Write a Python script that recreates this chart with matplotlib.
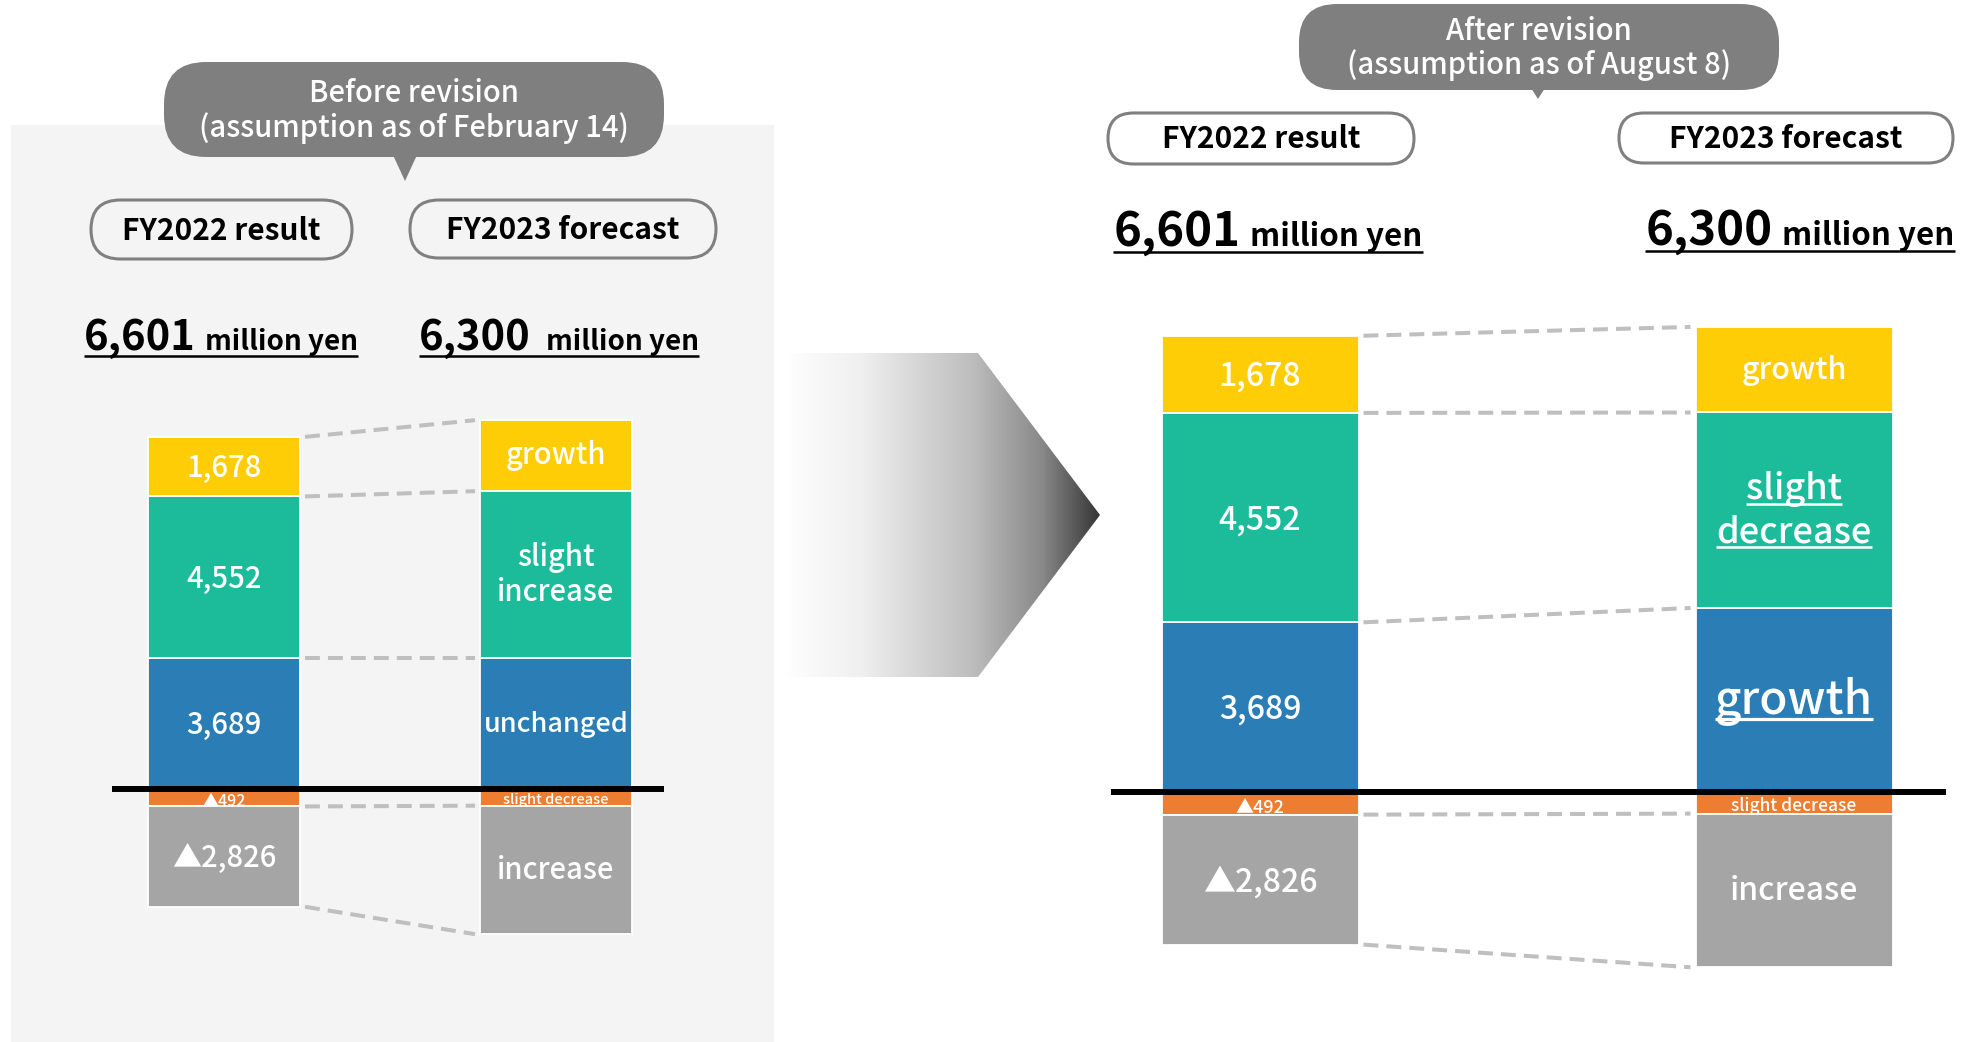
import numpy as np
import matplotlib
matplotlib.use("Agg")
import matplotlib.pyplot as plt
from matplotlib.patches import FancyBboxPatch, Polygon, Rectangle
from matplotlib.lines import Line2D
from matplotlib.colors import LinearSegmentedColormap
from matplotlib.transforms import IdentityTransform

plt.rcParams['font.family'] = ['Noto Sans CJK JP', 'DejaVu Sans']

W, H, DPI = 1972, 1042, 100

# ---- data (million yen) -------------------------------------------------
# stack order: three positive components, then two negative components
period_titles = ["FY2022 result", "FY2023 forecast"]
total_labels = ["6,601", "6,300"]
unit_label = "million yen"
bubble_before = ["Before revision", "(assumption as of February 14)"]
bubble_after = ["After revision", "(assumption as of August 8)"]

fy2022_values = [3689, 4552, 1678, -492, -2826]
fy2022_labels = ["3,689", "4,552", "1,678", "\u25b2492", "\u25b22,826"]

before_values = [3689, 4700, 2000, -470, -3619]
before_labels = ["unchanged", "slight\nincrease", "growth", "slight decrease", "increase"]

after_values = [4000, 4250, 1860, -470, -3340]
after_labels = ["growth", "slight\ndecrease", "growth", "slight decrease", "increase"]
after_underlined = [True, True, False, False, False]

seg_colors = ["#2A7DB5", "#1CBC9B", "#FFCD05", "#ED7D31", "#A5A5A5"]

# ---- figure ------------------------------------------------------------
fig = plt.figure(figsize=(W / DPI, H / DPI), dpi=DPI)
fig.patch.set_facecolor("white")
renderer = fig.canvas.get_renderer()


def px_axes(x0, y0, x1, y1, z=0):
    """Axes placed by pixel box measured from the top-left corner."""
    return fig.add_axes([x0 / W, 1 - y1 / H, (x1 - x0) / W, (y1 - y0) / H], zorder=z)


# background / decoration layer in pixel units
bg = px_axes(0, 0, W, H, z=0)
bg.set_xlim(0, W)
bg.set_ylim(H, 0)
bg.axis("off")

bg.add_patch(Rectangle((11, 125), 763, 917, fc="#F4F4F4", ec="none", zorder=0))

# gradient arrow between the two panels
arrow_pts = [(783, 353), (978, 353), (1100, 515), (978, 677), (783, 677)]
arrow = Polygon(arrow_pts, closed=True, fc="none", ec="none")
bg.add_patch(arrow)
fade = LinearSegmentedColormap.from_list(
    "fade", [(0, "#FFFFFF"), (0.25, "#EFEFEF"), (0.6, "#BDBDBD"), (0.82, "#888888"), (1, "#363636")])
im = bg.imshow(np.linspace(0, 1, 512).reshape(1, -1), extent=(783, 1100, 677, 353),
               cmap=fade, aspect="auto", interpolation="bilinear", zorder=1)
im.set_clip_path(arrow)


def bubble(x0, y0, x1, y1, tip, base_half, lines, line_ys, size):
    bg.add_patch(FancyBboxPatch((x0, y0), x1 - x0, y1 - y0,
                                boxstyle="round,pad=0,rounding_size=%d" % ((y1 - y0) * 0.45),
                                fc="#7F7F7F", ec="none", zorder=2))
    tx, ty = tip
    bg.add_patch(Polygon([(tx - base_half, y1 - 2), (tx + base_half, y1 - 2), (tx, ty)],
                         closed=True, fc="#7F7F7F", ec="none", zorder=2))
    cx = (x0 + x1) / 2
    for s, yy in zip(lines, line_ys):
        bg.text(cx, yy, s, ha="center", va="center", color="white", fontsize=size,
                weight="medium", zorder=3)


def pill(x0, y0, x1, y1, text, size):
    bg.add_patch(FancyBboxPatch((x0, y0), x1 - x0, y1 - y0,
                                boxstyle="round,pad=0,rounding_size=%f" % ((y1 - y0) / 2),
                                fc="none", ec="#808080", lw=2.2, zorder=2))
    bg.text((x0 + x1) / 2, (y0 + y1) / 2 + 1, text, ha="center", va="center",
            color="black", fontsize=size, weight="bold", zorder=3)


def headline(cx, base_y, num, num_size, unit_size, gap):
    t1 = bg.text(0, base_y, num, fontsize=num_size, weight="bold", ha="left", va="baseline", zorder=3)
    t2 = bg.text(0, base_y, unit_label, fontsize=unit_size, weight="bold", ha="left",
                 va="baseline", zorder=3)
    w1 = t1.get_window_extent(renderer).width
    w2 = t2.get_window_extent(renderer).width
    total = w1 + gap + w2
    x0 = cx - total / 2
    t1.set_x(x0)
    t2.set_x(x0 + w1 + gap)
    bg.plot([x0, x0 + total], [base_y + 6, base_y + 6], color="black", lw=1.8, zorder=3,
            solid_capstyle="butt")


bubble(164, 62, 664, 157, (405, 181), 12, bubble_before, [93, 128], 21)
bubble(1299, 4, 1779, 90, (1538, 99), 7, bubble_after, [31, 65], 21)

pill(91, 200, 352, 259, period_titles[0], 21.5)
pill(410, 200, 716, 258, period_titles[1], 21.5)
pill(1108, 113, 1414, 164, period_titles[0], 21.5)
pill(1619, 113, 1953, 163, period_titles[1], 21.5)

headline(221, 350, total_labels[0], 30, 20, 10)
headline(559, 350, total_labels[1], 30, 20, 16)
headline(1268, 246, total_labels[0], 34, 22.5, 10)
headline(1800, 245, total_labels[1], 34, 22.5, 10)


# ---- stacked bar panels -------------------------------------------------
def stack_bottoms(vals):
    pos = neg = 0
    out = []
    for v in vals:
        if v >= 0:
            out.append(pos)
            pos += v
        else:
            out.append(neg)
            neg += v
    return out


def seg_label(ax, x, y, text, size, underline=False, vshift=0.33, weight="medium"):
    lines = text.split("\n")
    n = len(lines)
    step = 1.2 * size
    for i, line in enumerate(lines):
        off = ((n - 1) / 2 - i) * step - vshift * size
        t = ax.annotate(line, (x, y), xytext=(0, off), textcoords="offset points",
                        ha="center", va="baseline", color="white", fontsize=size,
                        weight=weight, annotation_clip=False, zorder=5)
        if underline:
            bb = t.get_window_extent(renderer)
            base_disp = ax.transData.transform((x, y))[1] + off * DPI / 72
            uy = base_disp - 0.12 * size * DPI / 72
            fig.add_artist(Line2D([bb.x0, bb.x1], [uy, uy], transform=IdentityTransform(),
                                  color="white", lw=size * 0.07, solid_capstyle="butt",
                                  zorder=6))


def bar_panel(x0, x1, y0, y1, c0, c1, base, k, bar_w, cols, sizes, underlines):
    ax = px_axes(x0, y0, x1, y1, z=1)
    span = c1 - c0
    ax.set_xlim(-(c0 - x0) / span, 1 + (x1 - c1) / span)
    ax.set_ylim(-(y1 - base) / k, (base - y0) / k)
    ax.axis("off")
    ax.patch.set_alpha(0)
    w = bar_w / span
    gap = 5 / span

    tops = []
    for i, (vals, labels) in enumerate(cols):
        bots = stack_bottoms(vals)
        ax.bar([i] * len(vals), vals, bottom=bots, width=w, color=seg_colors,
               edgecolor="white", linewidth=1.3, zorder=2)
        tops.append([b + v for b, v in zip(bots, vals)])
        for j, (v, b, lab) in enumerate(zip(vals, bots, labels)):
            size = sizes[i][j]
            ul = underlines[i][j]
            vs = 0.36 if lab[:1].isdigit() or lab[:1] == "\u25b2" else 0.3
            if v < 0 and abs(v) < 600:
                # thin negative strip sits just under the black zero line
                b_adj = b + v / 2 - 60
            else:
                b_adj = b + v / 2
            seg_label(ax, i, b_adj, lab, size, underline=ul, vshift=vs)

    for a, b in zip(tops[0], tops[1]):
        ax.plot([w / 2 + gap, 1 - w / 2 - gap], [a, b], color="#BFBFBF", lw=2.9,
                dashes=(3.7, 2.0), solid_capstyle="butt", zorder=1)
    ax.axhline(0, color="black", lw=4.3, zorder=4)
    return ax


# before revision (grey panel)
bar_panel(112, 664, 380, 1030, 224, 556, 789, 0.0355, 152,
          [(fy2022_values, fy2022_labels), (before_values, before_labels)],
          [[21, 21, 21, 11.5, 21], [19.5, 21, 21, 10.5, 21]],
          [[False] * 5, [False] * 5])

# after revision
bar_panel(1111, 1946, 250, 1040, 1260, 1794, 792, 0.046, 197,
          [(fy2022_values, fy2022_labels), (after_values, after_labels)],
          [[23, 23, 23, 13, 23], [33, 26, 22, 12.5, 23]],
          [[False] * 5, after_underlined])

fig.savefig("out.png", dpi=DPI, facecolor="white")
